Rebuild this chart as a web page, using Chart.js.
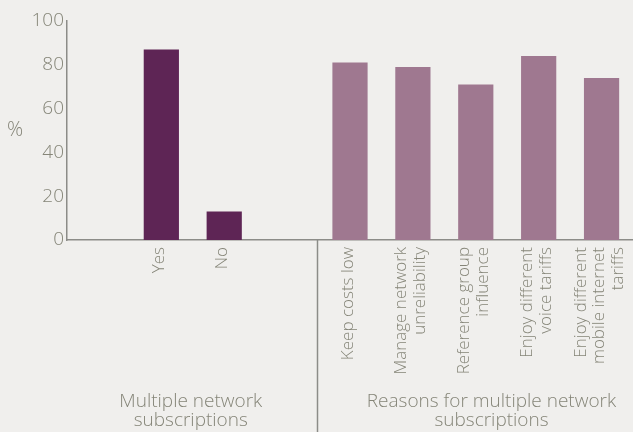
<!DOCTYPE html>
<html>
<head>
<meta charset="utf-8">
<script src="https://cdn.jsdelivr.net/npm/chart.js@4/dist/chart.umd.min.js"></script>
<style>
  html, body { margin: 0; padding: 0; background: #f0efed; }
  #wrap { width: 633px; height: 432px; position: relative; }
</style>
</head>
<body>
<div id="wrap"><canvas id="chart"></canvas></div>
<script>
// Category slots: blank spacers keep the two groups apart
const categories = [
  '',
  'Yes',
  'No',
  '',
  'Keep costs low',
  ['Manage network', 'unreliability'],
  ['Reference group', 'influence'],
  ['Enjoy different', 'voice tariffs'],
  ['Enjoy different', 'mobile internet', 'tariffs']
];
const percentValues = [null, 87, 13, null, 81, 79, 71, 84, 74];
const barColors = ['#5e2555', '#5e2555', '#5e2555', '#9f7890', '#9f7890', '#9f7890', '#9f7890', '#9f7890', '#9f7890'];
const yTicks = [0, 20, 40, 60, 80, 100];
const groupTitles = [
  ['Multiple network', 'subscriptions'],
  ['Reasons for multiple network', 'subscriptions']
];

const textColor = '#858578';
const lineColor = '#8c8c88';
const fontFamily = '"Open Sans", "DejaVu Sans", sans-serif';

// rotated category labels (multi-line blocks centred on their bar),
// the group divider, the group captions and the unrotated "%" title
const extras = {
  id: 'extras',
  afterDraw(chart) {
    const ctx = chart.ctx;
    const x = chart.scales.x;
    const area = chart.chartArea;
    ctx.save();
    ctx.fillStyle = textColor;

    ctx.font = '300 17px ' + fontFamily;
    ctx.textAlign = 'right';
    ctx.textBaseline = 'middle';
    const lh = 18.5;
    categories.forEach((label, i) => {
      const lines = Array.isArray(label) ? label : [label];
      const px = x.getPixelForValue(i);
      lines.forEach((line, j) => {
        ctx.save();
        ctx.translate(px + (j - (lines.length - 1) / 2) * lh - 2, area.bottom + 7);
        ctx.rotate(-Math.PI / 2);
        ctx.fillText(line, 0, 0);
        ctx.restore();
      });
    });

    const divX = Math.round((x.getPixelForValue(3) + x.getPixelForValue(4)) / 2) - 1.5;
    ctx.strokeStyle = lineColor;
    ctx.lineWidth = 1.5;
    ctx.beginPath();
    ctx.moveTo(divX, area.bottom);
    ctx.lineTo(divX, chart.height);
    ctx.stroke();

    ctx.font = '300 19px ' + fontFamily;
    ctx.textAlign = 'center';
    const centers = [
      (x.getPixelForValue(1) + x.getPixelForValue(2)) / 2 - 2,
      x.getPixelForValue(6.25)
    ];
    groupTitles.forEach((lines, i) => {
      lines.forEach((line, j) => ctx.fillText(line, centers[i], 402 + j * 19));
    });

    ctx.font = '300 20px ' + fontFamily;
    ctx.fillText('%', 15, 130);
    ctx.restore();
  }
};

new Chart(document.getElementById('chart'), {
  type: 'bar',
  data: {
    labels: categories,
    datasets: [{
      data: percentValues,
      backgroundColor: barColors,
      borderWidth: 0,
      barPercentage: 0.56,
      categoryPercentage: 1
    }]
  },
  options: {
    responsive: true,
    maintainAspectRatio: false,
    animation: false,
    layout: { padding: { top: 21, left: 0, right: 0, bottom: 0 } },
    plugins: {
      legend: { display: false },
      tooltip: { enabled: false }
    },
    scales: {
      x: {
        afterFit(scale) {
          scale.height = 192;
          scale.paddingLeft = 0;
          scale.paddingRight = 0;
        },
        grid: { display: false, drawTicks: false },
        border: { display: true, color: lineColor, width: 1.5 },
        ticks: { display: false }
      },
      y: {
        min: 0,
        max: 100,
        afterFit(scale) { scale.width = 67; },
        afterBuildTicks(scale) { scale.ticks = yTicks.map(v => ({ value: v })); },
        grid: { display: false, drawTicks: false },
        border: { display: true, color: lineColor, width: 1.5 },
        ticks: {
          padding: 3,
          color: textColor,
          font: { family: fontFamily, size: 19, weight: '300' }
        }
      }
    }
  },
  plugins: [extras]
});
</script>
</body>
</html>
